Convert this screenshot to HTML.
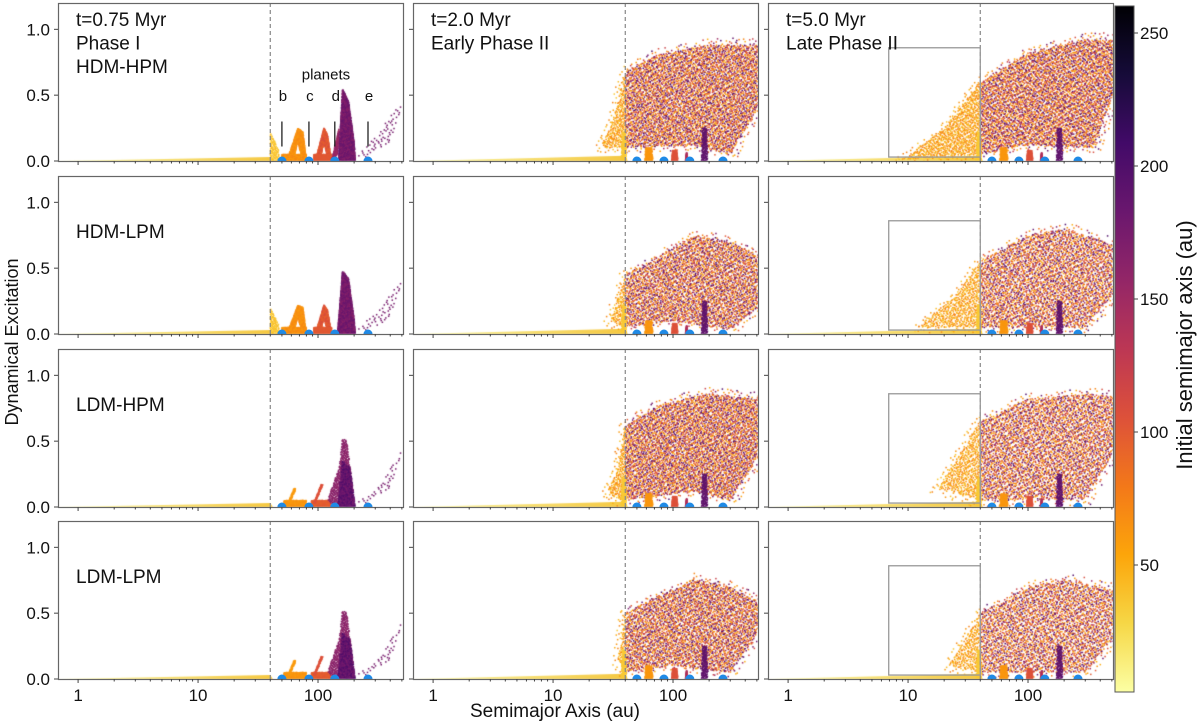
<!DOCTYPE html>
<html><head><meta charset="utf-8">
<style>
html,body{margin:0;padding:0;background:#fff;}
#wrap{position:relative;width:1200px;height:723px;overflow:hidden;font-family:"Liberation Sans","DejaVu Sans",sans-serif;}
canvas,svg{position:absolute;left:0;top:0;}
</style></head>
<body>
<div id="wrap">
<canvas id="cv" width="1200" height="723"></canvas>
<svg id="sv" width="1200" height="723" xmlns="http://www.w3.org/2000/svg"></svg>
</div>
<script>
// ---- data ----
const xTickValues = [1, 10, 100];
const xTickLabels = ['1', '10', '100'];
const yTickValues = [0, 0.5, 1.0];
const yTickLabels = ['0.0', '0.5', '1.0'];
const cbTickValues = [50, 100, 150, 200, 250];
const planetA = [50, 84, 138, 261];
const planetNames = ['b', 'c', 'd', 'e'];
const disruptA = 40;
const zoomBox = [6.9, 40, 0.03, 0.86];
const colTitles = [['t=0.75 Myr', 'Phase I'], ['t=2.0 Myr', 'Early Phase II'], ['t=5.0 Myr', 'Late Phase II']];
const rowTitles = ['HDM-HPM', 'HDM-LPM', 'LDM-HPM', 'LDM-LPM'];
const cloudColorsLeft = [35, 42, 50, 55, 62, 70, 75, 60];
const cloudColorsRight = [50, 58, 65, 72, 80, 100, 120, 150, 170, 185, 200, 110];
// clusters: [row, col, count, colorValues, envelope [[a,e],...]]
const col1Clusters = [
 [0,0,120,[35,40],[[40,0],[40,0.22],[47,0.08],[48,0]]],
 [0,0,900,[60,65,70],[[55,0],[68,0.25],[75,0.22],[80,0],[74,0],[68,0.15],[62,0]]],
 [0,0,700,[60,70],[[50,0],[80,0],[80,0.05],[50,0.05]]],
 [0,0,900,[95,100,110],[[95,0],[112,0.25],[120,0.2],[130,0],[122,0],[112,0.14],[104,0]]],
 [0,0,500,[100],[[92,0],[130,0],[130,0.05],[92,0.05]]],
 [0,0,300,[150,160],[[130,0],[150,0.25],[145,0.05]]],
 [0,0,2200,[165,175,185],[[148,0],[160,0.55],[180,0.45],[200,0.15],[205,0]]],
 [0,0,60,[175],[[200,0.03],[300,0.18],[480,0.45],[511,0.45],[400,0.15],[250,0.02]]],
 [1,0,120,[35,40],[[40,0],[40,0.2],[47,0.07],[48,0]]],
 [1,0,800,[60,65,70],[[55,0],[68,0.22],[75,0.2],[80,0],[74,0],[68,0.13],[62,0]]],
 [1,0,600,[60,70],[[50,0],[80,0],[80,0.05],[50,0.05]]],
 [1,0,800,[95,100,110],[[95,0],[112,0.22],[120,0.18],[130,0],[122,0],[112,0.12],[104,0]]],
 [1,0,450,[100],[[92,0],[130,0],[130,0.05],[92,0.05]]],
 [1,0,2000,[165,175,185],[[145,0],[160,0.48],[180,0.42],[200,0.12],[205,0]]],
 [1,0,50,[175],[[200,0.03],[300,0.15],[480,0.4],[511,0.42],[400,0.12],[250,0.02]]],
 [2,0,400,[60,65],[[52,0],[80,0],[80,0.05],[52,0.05]]],
 [2,0,60,[60],[[58,0.03],[66,0.14],[63,0.14],[56,0.03]]],
 [2,0,400,[95,100],[[88,0],[128,0],[128,0.05],[88,0.05]]],
 [2,0,80,[105],[[95,0.03],[110,0.17],[106,0.17],[92,0.03]]],
 [2,0,700,[160,165],[[120,0.05],[150,0.3],[160,0.52],[175,0.5],[200,0.05],[140,0]]],
 [2,0,800,[175,185,200],[[145,0],[160,0.35],[185,0.3],[205,0]]],
 [2,0,40,[175],[[200,0.03],[300,0.12],[480,0.4],[511,0.45],[400,0.15],[250,0.02]]],
 [3,0,400,[60,65],[[52,0],[80,0],[80,0.05],[52,0.05]]],
 [3,0,60,[60],[[58,0.03],[66,0.14],[63,0.14],[56,0.03]]],
 [3,0,400,[95,100],[[88,0],[128,0],[128,0.05],[88,0.05]]],
 [3,0,80,[105],[[95,0.03],[110,0.17],[106,0.17],[92,0.03]]],
 [3,0,700,[160,165],[[120,0.05],[150,0.3],[160,0.52],[175,0.5],[200,0.05],[140,0]]],
 [3,0,800,[175,185,200],[[145,0],[160,0.35],[185,0.3],[205,0]]],
 [3,0,40,[175],[[200,0.03],[300,0.12],[480,0.4],[511,0.45],[400,0.15],[250,0.02]]]
];
const col2Clouds = [
 [0,1,4200,[[25,0.1],[33,0.35],[40,0.68],[70,0.8],[200,0.88],[511,0.88],[511,0.4],[300,0.05],[150,0.12],[40,0.1]]],
 [1,1,3000,[[30,0.1],[40,0.45],[80,0.6],[150,0.75],[300,0.7],[511,0.6],[511,0.2],[300,0.03],[100,0.1],[40,0.05]]],
 [2,1,4000,[[28,0.1],[35,0.3],[40,0.62],[80,0.78],[200,0.86],[511,0.82],[511,0.38],[300,0.05],[150,0.12],[38,0.05]]],
 [3,1,3000,[[35,0.15],[40,0.5],[70,0.62],[150,0.76],[300,0.7],[511,0.58],[511,0.35],[300,0.05],[100,0.1],[40,0.05]]]
];
const col3Clouds = [
 [0,2,4600,[[9,0.01],[20,0.25],[40,0.6],[100,0.82],[300,0.92],[511,0.92],[511,0.5],[350,0.1],[100,0.12],[40,0.05]]],
 [1,2,3400,[[12,0.05],[25,0.3],[40,0.55],[100,0.75],[200,0.8],[511,0.68],[511,0.3],[300,0.05],[40,0.05]]],
 [2,2,3600,[[18,0.15],[40,0.65],[100,0.82],[300,0.86],[511,0.84],[511,0.4],[300,0.06],[40,0.05]]],
 [3,2,2800,[[22,0.1],[40,0.5],[100,0.7],[200,0.76],[511,0.68],[511,0.3],[300,0.05],[40,0.05]]]
];
// clumps near planets for columns 2-3: [aLo, aHi, eTop, colorValue]
const clumpsLate = [[37,41,0.22,35],[58,68,0.1,62],[97,110,0.08,105],[127,133,0.06,140],[172,195,0.25,190]];

// ---- geometry ----
const colLeft = [58, 413, 768], panelW = 345, rowBottom = [161, 334, 507, 679], panelH = 158;
const xMin = 0.68, xMax = 511, yMax = 1.2;
function xs(c, a){ return colLeft[c] + (Math.log10(a)-Math.log10(xMin))/(Math.log10(xMax)-Math.log10(xMin))*panelW; }
function ys(r, e){ return rowBottom[r] - e/yMax*panelH; }
const inferno = ['#000004','#160b39','#420a68','#6a176e','#932667','#bc3754','#dd513a','#f37819','#fca50a','#f6d746','#fcffa4'];
function hex(h){ return [parseInt(h.substr(1,2),16),parseInt(h.substr(3,2),16),parseInt(h.substr(5,2),16)]; }
function cmap(v){ let t = 1-(v-2)/258; t=Math.max(0,Math.min(1,t)); const p=t*10, i=Math.min(9,Math.floor(p)), f=p-i;
 const a=hex(inferno[i]), b=hex(inferno[i+1]); return 'rgb('+a.map((x,k)=>Math.round(x+(b[k]-x)*f)).join(',')+')'; }
function halton(i,b){ let f=1,r=0; while(i>0){ f/=b; r+=f*(i%b); i=Math.floor(i/b);} return r; }
function inPoly(x,y,P){ let c=false; for(let i=0,j=P.length-1;i<P.length;j=i++){ const xi=P[i][0],yi=P[i][1],xj=P[j][0],yj=P[j][1];
 if(((yi>y)!=(yj>y)) && (x<(xj-xi)*(y-yi)/(yj-yi)+xi)) c=!c; } return c; }

const cv = document.getElementById('cv'), ctx = cv.getContext('2d');
function drawCluster(r,c,n,colors,env,sz,offset,colorsRight,splitA){
 const P = env.map(p=>[xs(c,p[0]), ys(r,p[1])]);
 const minX=Math.min(...P.map(p=>p[0])), maxX=Math.max(...P.map(p=>p[0]));
 const minY=Math.min(...P.map(p=>p[1])), maxY=Math.max(...P.map(p=>p[1]));
 ctx.save(); ctx.beginPath(); ctx.rect(colLeft[c], rowBottom[r]-panelH, panelW, panelH); ctx.clip();
 const splitX = splitA ? xs(c,splitA) : 1e9;
 let got=0, i=offset||1, lim=n*40;
 while(got<n && i<lim){ const x=minX+halton(i,2)*(maxX-minX), y=minY+halton(i,3)*(maxY-minY);
  if(inPoly(x,y,P)){ const cols = (colorsRight && x>splitX) ? colorsRight : colors;
   ctx.fillStyle=cmap(cols[Math.floor(halton(i,5)*cols.length)]); ctx.fillRect(x-sz/2,y-sz/2,sz,sz); got++; } i++; }
 ctx.restore();
}
function expand(env,fa,fe){
 const la=env.map(p=>Math.log10(p[0])), ca=la.reduce((s,v)=>s+v,0)/la.length, ce=env.reduce((s,p)=>s+p[1],0)/env.length;
 return env.map((p,k)=>[Math.pow(10,ca+(la[k]-ca)*fa), Math.max(0,ce+(p[1]-ce)*fe)]);
}
for(let r=0;r<4;r++) for(let c=0;c<3;c++){
 const g=ctx.createLinearGradient(xs(c,1),0,xs(c,40),0); g.addColorStop(0,'#f8f3a0'); g.addColorStop(1,'#f5c842');
 ctx.fillStyle=g; ctx.beginPath(); ctx.moveTo(xs(c,xMin),ys(r,0)); ctx.lineTo(xs(c,40),ys(r,c?0.04:0.03)); ctx.lineTo(xs(c,42),ys(r,0)); ctx.fill();
}
col1Clusters.forEach(k=>drawCluster(k[0],k[1],k[2],k[3],k[4],1.5,1));
col2Clouds.concat(col3Clouds).forEach(k=>{
 drawCluster(k[0],k[1],Math.round(k[2]*0.25),cloudColorsLeft,expand(k[3],1.1,1.12),1.5,11,cloudColorsRight,40);
 drawCluster(k[0],k[1],k[2],cloudColorsLeft,k[3],1.5,7,cloudColorsRight,40);
 clumpsLate.forEach((q,j)=>drawCluster(k[0],k[1],160,[q[3]],[[q[0],0],[q[1],0],[q[1]*0.98,q[2]],[q[0]*1.02,q[2]]],1.5,3));
});
// ---- SVG ----
const sv = document.getElementById('sv'), NS='http://www.w3.org/2000/svg';
function el(tag, attrs, parent, txt){ const e=document.createElementNS(NS,tag); for(const k in attrs) e.setAttribute(k,attrs[k]); if(txt!==undefined) e.textContent=txt; (parent||sv).appendChild(e); return e; }
for(let r=0;r<4;r++) for(let c=0;c<3;c++){
 const g=el('g',{});  
 const top=rowBottom[r]-panelH;
 const dl=el('line',{x1:xs(c,disruptA),x2:xs(c,disruptA),y1:top,y2:rowBottom[r],stroke:'#888','stroke-width':1.2,'stroke-dasharray':'4,3'},g);
  
 planetA.forEach((a,j)=>{ const p=el('path',{d:'M'+(xs(c,a)-4.5)+','+rowBottom[r]+' a4.5,4.5 0 0 1 9,0 z',fill:'#1f8ae6'},g);
    });
 if(c===2){ const b=el('rect',{x:xs(c,zoomBox[0]),y:ys(r,zoomBox[3]),width:xs(c,zoomBox[1])-xs(c,zoomBox[0]),height:ys(r,zoomBox[2])-ys(r,zoomBox[3]),fill:'none',stroke:'#999','stroke-width':1.3},g);
    }
 const f=el('rect',{x:colLeft[c]+0.5,y:top+0.5,width:panelW,height:panelH,fill:'none',stroke:'#666','stroke-width':1.2},g);
  
 for(let d=0; d<3; d++) for(let m=1;m<10;m++){ const v=m*Math.pow(10,d); if(v<xMin||v>xMax) continue; const x=xs(c,v);
  el('line',{x1:x,x2:x,y1:rowBottom[r],y2:rowBottom[r]+(m===1?4:2.5),stroke:'#444','stroke-width':1},g); }
 if(r===3) xTickValues.forEach((v,j)=>{ const t=el('text',{x:xs(c,v),y:701,'text-anchor':'middle','font-size':17,fill:'#111'},g,xTickLabels[j]);
    });
 yTickValues.forEach((v,j)=>{ el('line',{x1:colLeft[c]-4,x2:colLeft[c],y1:ys(r,v),y2:ys(r,v),stroke:'#444'},g);
  if(c===0){ const t=el('text',{x:50,y:ys(r,v)+6,'text-anchor':'end','font-size':17,fill:'#111'},g,yTickLabels[j]);
     } });
 const lines=[]; if(r===0){ lines.push(...colTitles[c]); if(c===0) lines.push(rowTitles[0]); }
 else if(c===0) lines.push(rowTitles[r]);
 lines.forEach((s,j)=>{ const y = (r===0)? top+23+j*23.5 : ys(r,0.73);
  const t=el('text',{x:colLeft[c]+18,y:y,'font-size':19,fill:'#111'},g,s);   });
}
planetA.forEach((a,j)=>{ const x=xs(0,a);
 const l=el('line',{x1:x,x2:x,y1:ys(0,0.11),y2:ys(0,0.3),stroke:'#222','stroke-width':1.3});  
 const t=el('text',{x:x+1,y:ys(0,0.455),'text-anchor':'middle','font-size':15,fill:'#111'},sv,planetNames[j]);   });
const pl=el('text',{x:(xs(0,planetA[0])+xs(0,planetA[3]))/2+1,y:ys(0,0.62),'text-anchor':'middle','font-size':15,fill:'#111'},sv,'planets');
 
const yt=el('text',{x:0,y:0,transform:'translate(18,342) rotate(-90)','text-anchor':'middle','font-size':18,fill:'#111'},sv,'Dynamical Excitation');
 
const xt=el('text',{x:555,y:717,'text-anchor':'middle','font-size':19,fill:'#111'},sv,'Semimajor Axis (au)');
 
const defs=el('defs',{}); const lg=el('linearGradient',{id:'cbg',x1:0,y1:1,x2:0,y2:0},defs);
for(let i=0;i<=20;i++){ const v=2+258*i/20; el('stop',{offset:i/20,'stop-color':cmap(v)},lg); }
const cbTop=6, cbBot=692; function cby(v){ return 698 - v*2.66; }
const cb=el('rect',{x:1115,y:cbTop,width:19,height:cbBot-cbTop,fill:'url(#cbg)',stroke:'#555','stroke-width':1});
 
cbTickValues.forEach(v=>{ el('line',{x1:1134,x2:1138,y1:cby(v),y2:cby(v),stroke:'#444'});
 const t=el('text',{x:1140,y:cby(v)+6,'font-size':17,fill:'#111'},sv,String(v));   });
const ct=el('text',{x:0,y:0,transform:'translate(1192,345) rotate(-90)','text-anchor':'middle','font-size':22,fill:'#111'},sv,'Initial semimajor axis (au)');
 
</script>
</body></html>
